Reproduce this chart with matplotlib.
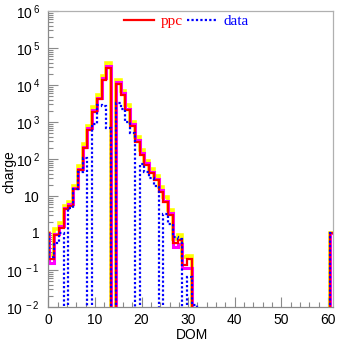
import numpy as np
import matplotlib
matplotlib.use('Agg')
import matplotlib.pyplot as plt
from matplotlib.ticker import FixedLocator, FixedFormatter, MultipleLocator, LogLocator, NullFormatter
from matplotlib.lines import Line2D

# DOM bins (61 bins)
dom_edges = np.linspace(-0.81, 61.41, 62)

# simulated charge (ppc), red
ppc = [1.0, 0.2, 0.9, 1.4, 4.4, 5.4, 15, 50, 195, 610,
       1900, 4100, 13500, 28000, 0, 10600, 5400, 2100, 780, 295,
       130, 69, 41, 27, 13, 7, 3.1, 0.53, 0.65, 0.14,
       0.2, 0, 0, 0, 0, 0, 0, 0, 0, 0,
       0, 0, 0, 0, 0, 0, 0, 0, 0, 0,
       0, 0, 0, 0, 0, 0, 0, 0, 0, 0,
       1.0]

# upper variant (yellow)
ppc_hi = [1.0, 0.25, 1.3, 1.9, 5.5, 6.8, 19, 65, 250, 800,
          2500, 5300, 17500, 40000, 0, 14000, 7000, 2800, 1000, 400,
          170, 90, 55, 35, 17, 9.5, 4.2, 0.7, 0.9, 0.22,
          0.24, 0, 0, 0, 0, 0, 0, 0, 0, 0,
          0, 0, 0, 0, 0, 0, 0, 0, 0, 0,
          0, 0, 0, 0, 0, 0, 0, 0, 0, 0,
          1.0]

# lower variant (magenta)
ppc_lo = [1.0, 0.15, 0.95, 1.5, 4.8, 5.9, 16, 55, 215, 680,
          2100, 4500, 15000, 33000, 0, 11800, 6000, 2300, 860, 330,
          145, 76, 44, 29, 14.5, 7.5, 3.4, 0.42, 0.5, 0.11,
          0.11, 0, 0, 0, 0, 0, 0, 0, 0, 0,
          0, 0, 0, 0, 0, 0, 0, 0, 0, 0,
          0, 0, 0, 0, 0, 0, 0, 0, 0, 0,
          1.0]

# measured charge (data), blue dotted
data = [1.0, 0.22, 0.55, 1.0, 0, 4.6, 15, 45, 105, 0,
        900, 2900, 2700, 670, 0, 3200, 2300, 1000, 520, 0,
        75, 45, 30, 19, 0, 3.3, 1.8, 0.8, 0.7, 0,
        0.066, 0.011, 0, 0, 0, 0, 0, 0, 0, 0,
        0, 0, 0, 0, 0, 0, 0, 0, 0, 0,
        0, 0, 0, 0, 0, 0, 0, 0, 0, 0,
        1.0]

y_tick_vals = [1e-2, 1e-1, 1, 10, 1e2, 1e3, 1e4, 1e5, 1e6]
y_tick_labels = [r'$\mathregular{10^{\,-2}}$', r'$\mathregular{10^{\,-1}}$',
                 r'$\mathregular{1}\;\;\;$', r'$\mathregular{10}\;\;\;$',
                 r'$\mathregular{10^{\,2}}$', r'$\mathregular{10^{\,3}}$',
                 r'$\mathregular{10^{\,4}}$', r'$\mathregular{10^{\,5}}$',
                 r'$\mathregular{10^{\,6}}$']
x_tick_vals = [0, 10, 20, 30, 40, 50, 60]

plt.rcParams['font.family'] = ['Liberation Sans', 'DejaVu Sans']
plt.rcParams['mathtext.fontset'] = 'custom'
plt.rcParams['mathtext.rm'] = 'Liberation Sans'

W, H = 337, 344
fig = plt.figure(figsize=(W / 100, H / 100), dpi=100)
ax = fig.add_axes([48.3 / W, 1 - 307 / H, (332.7 - 48.3) / W, (307 - 11) / H])
ax.set_yscale('log')


def floor(v):
    v = np.asarray(v, dtype=float)
    return np.where(v > 0, v, 1e-5)


ax.stairs(floor(ppc_hi), dom_edges, color='#ffff00', lw=2.6, baseline=None, zorder=2)
ax.stairs(floor(ppc_lo), dom_edges, color='#ff00ff', lw=2.2, baseline=None, zorder=2.1)
ax.stairs(floor(ppc), dom_edges, color='#ff0000', lw=1.6, baseline=None, zorder=2.2)
ax.stairs(floor(data), dom_edges, color='#0000ff', lw=1.6, ls=(0, (1, 1)),
          baseline=None, zorder=2.3)

ax.set_xlim(0, 61)
ax.set_ylim(1e-2, 1e6)

frame_col = '#8a8a8a'
for side, sp in ax.spines.items():
    sp.set_color(frame_col if side in ('left', 'bottom') else '#b0b0b0')
    sp.set_linewidth(0.9)

ax.yaxis.set_major_locator(FixedLocator(y_tick_vals))
ax.yaxis.set_major_formatter(FixedFormatter(y_tick_labels))
ax.yaxis.set_minor_locator(LogLocator(base=10, subs=np.arange(2, 10), numticks=20))
ax.yaxis.set_minor_formatter(NullFormatter())
ax.xaxis.set_major_locator(FixedLocator(x_tick_vals))
ax.xaxis.set_minor_locator(MultipleLocator(2))

ax.tick_params(which='both', direction='in', color=frame_col, width=0.8,
               top=False, right=False, labelsize=10)
ax.tick_params(which='major', length=7)
ax.tick_params(which='minor', length=3.5)
ax.tick_params(axis='y', pad=6)
ax.tick_params(axis='x', pad=4)

ax.set_xlabel('DOM', fontsize=10, va='center')
ax.xaxis.set_label_coords((192 - 48.3) / (332.7 - 48.3), -(335 - 307) / 296)
ax.set_ylabel('charge', fontsize=10, va='center')
ax.yaxis.set_label_coords((9 - 48.3) / (332.7 - 48.3), (307 - 172) / 296)

handles = [Line2D([], [], color='#ff0000', lw=1.6),
           Line2D([], [], color='#0000ff', lw=1.6, ls=(0, (1, 1)))]
leg = ax.legend(handles, ['ppc', 'data'], ncol=2, frameon=False,
                loc='center', bbox_to_anchor=((186.5 - 48.3) / 284.4, (307 - 21) / 296),
                prop={'family': 'Liberation Serif', 'size': 11},
                handlelength=2.0, handletextpad=0.4, columnspacing=0.3,
                labelcolor='linecolor')

fig.savefig('out.png', dpi=100)
